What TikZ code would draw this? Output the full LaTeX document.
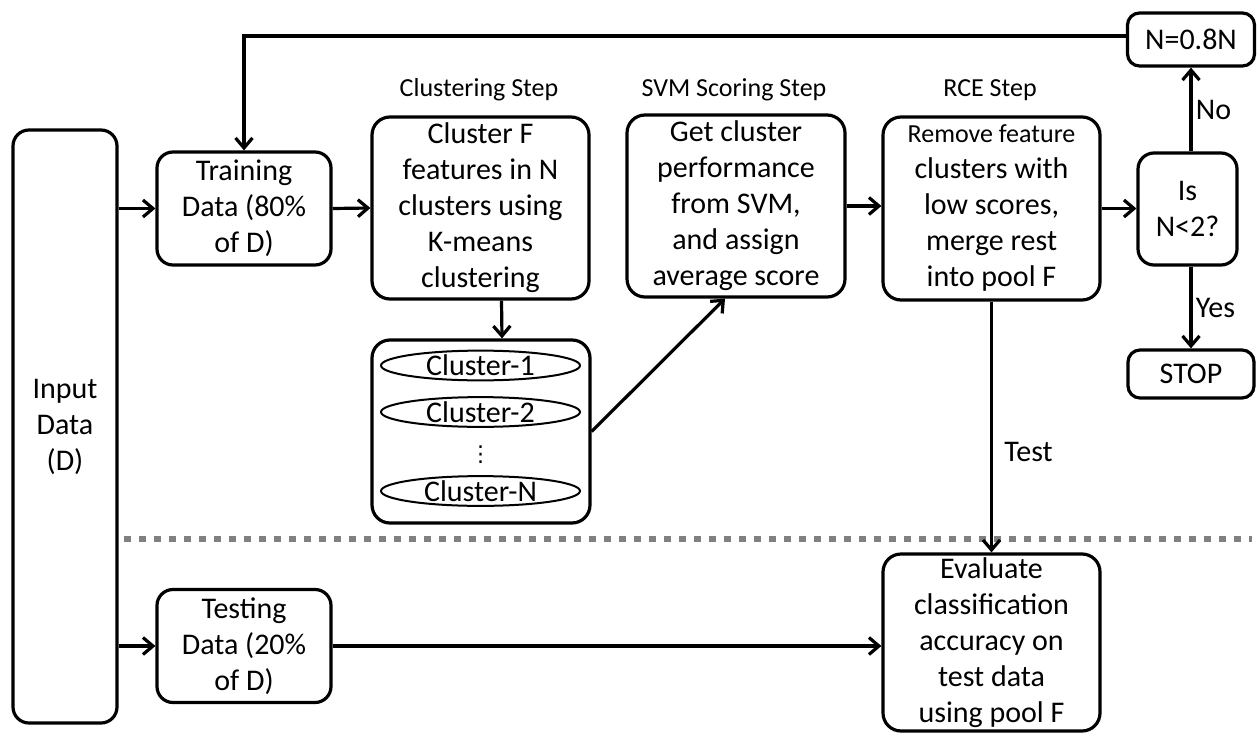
\documentclass[tikz,border=0pt]{standalone}
\usepackage{fontspec}
\setmainfont{Carlito}
\newfontfamily\symfont{DejaVu Sans}
\usetikzlibrary{arrows.meta,shapes.geometric}
\definecolor{sepgray}{RGB}{128,128,128}
\begin{document}
\begin{tikzpicture}[>={Straight Barb[length=10pt,width=17pt]},x=1pt,y=-1pt,
		box/.style={draw,line width=3.2pt,rounded corners=18pt,align=center,inner sep=0pt,font=\fontsize{30}{36}\selectfont},
		clus/.style={draw,ellipse,line width=2pt,minimum width=199pt,minimum height=25pt,inner sep=0pt,font=\fontsize{30}{30}\selectfont},
		steplbl/.style={font=\fontsize{26}{30}\selectfont},
		lbl/.style={font=\fontsize{30}{30}\selectfont},
		conn/.style={->,line width=3.2pt}]
	\useasboundingbox (0,0) rectangle (1257,733);
	% boxes
	\node[box,minimum width=104pt,minimum height=593pt,rounded corners=16pt] (Input) at (65,426.5) {Input\\Data\\(D)};
	\node[box,minimum width=174pt,minimum height=113pt,rounded corners=16pt] (Train) at (244,208.5) {Training\\Data (80\%\\of D)};
	\node[box,minimum width=217pt,minimum height=182pt] (CF) at (480.5,208) {Cluster F\\features in N\\clusters using\\K-means\\clustering};
	\node[box,minimum width=218pt,minimum height=183pt] (Clusters) at (481,431.5) {};
	\node[clus] (C1) at (480.5,365.5) {Cluster-1};
	\node[clus] (C2) at (480.5,412) {Cluster-2};
	\node[font=\symfont\fontsize{22}{22}\selectfont,inner sep=0pt] (Cdots) at (480.5,455) {⋮};
	\node[clus] (CN) at (480.5,491) {Cluster-N};
	\node[box,minimum width=218pt,minimum height=182pt] (SVM) at (736,206) {Get cluster\\performance\\from SVM,\\and assign\\average score};
	\node[box,minimum width=217pt,minimum height=183pt] (RCE) at (991.5,208.5) {{\fontsize{26}{36}\selectfont Remove feature}\\clusters with\\low scores,\\merge rest\\into pool F};
	\node[box,minimum width=99pt,minimum height=112pt,rounded corners=16pt] (IsN) at (1187.5,209) {Is\\N<2?};
	\node[box,minimum width=127pt,minimum height=53pt,rounded corners=12pt] (N08) at (1191,39.5) {N=0.8N};
	\node[box,minimum width=126pt,minimum height=48pt,rounded corners=12pt] (Stop) at (1191,374) {STOP};
	\node[box,minimum width=174pt,minimum height=113pt,rounded corners=16pt] (Test) at (244,646) {Testing\\Data (20\%\\of D)};
	\node[box,minimum width=217pt,minimum height=177pt] (Eval) at (991.5,642.5) {Evaluate\\classification\\accuracy on\\test data\\using pool F};
	% step titles
	\node[steplbl] (lblClus) at (479,90) {Clustering Step};
	\node[steplbl] (lblSVM) at (734,90) {SVM Scoring Step};
	\node[steplbl] (lblRCE) at (990,90) {RCE Step};
	% train / test split
	\draw[sepgray,line width=6pt,dash pattern=on 7pt off 8pt] (124,539) -- (1252,539);
	% connectors
	\draw[conn] (Input.east |- Train) -- (Train.west);
	\draw[conn] (Input.east |- Test) -- (Test.west);
	\draw[conn] (Train.east) -- (CF.west);
	\draw[conn] ([xshift=21pt]CF.south) -- ([xshift=21pt]Clusters.north);
	\draw[conn] (Clusters.east) -- ([xshift=-11pt]SVM.south);
	\draw[conn] (SVM.east) -- (SVM.east -| RCE.west);
	\draw[conn] (RCE.east) -- (RCE.east -| IsN.west);
	\draw[conn] (IsN.north -| N08.south) -- (N08.south) node[lbl,right,midway] (lblNo) {No};
	\draw[conn] (IsN.south -| Stop.north) -- (Stop.north) node[lbl,right,midway] (lblYes) {Yes};
	\draw[conn] ([yshift=3.5pt]N08.west) -| (Train.north);
	\draw[conn] (RCE.south) -- (Eval.north) node[lbl,right=8pt,pos=0.6] (lblTest) {Test};
	\draw[conn] (Test.east) -- (Test.east -| Eval.west);
\end{tikzpicture}
\end{document}
